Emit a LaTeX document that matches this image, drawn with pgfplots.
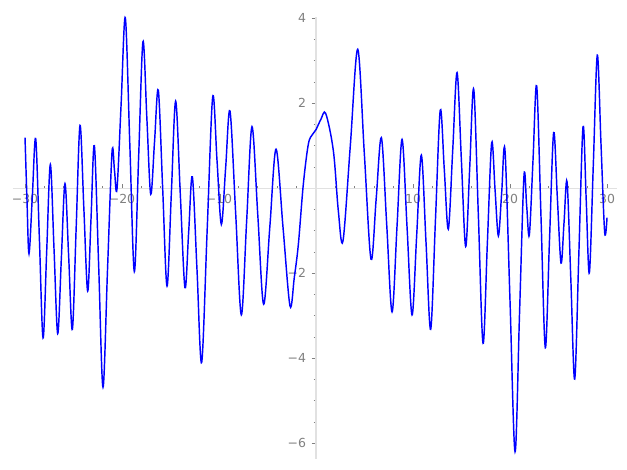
\documentclass[border=0pt]{standalone}
\usepackage{fontspec}
\setmainfont{DejaVu Sans}
\usepackage{pgfplots}
\pgfplotsset{compat=1.18}
\definecolor{axgray}{RGB}{225,225,225}
\definecolor{lblgray}{RGB}{128,128,128}
\begin{document}
\begin{tikzpicture}
\useasboundingbox (-12.7bp,-11bp) rectangle (614.3bp,459bp);
\begin{axis}[
 at={(0,0)}, anchor=south west,
 scale only axis, width=604.3bp, height=442bp,
 xmin=-31.27, xmax=31.03, ymin=-6.37, ymax=4.03,
 axis lines=middle,
 axis line style={axgray, line width=1.5bp, -},
 xtick={-30,-20,-10,10,20,30},
 xticklabels={−30,−20,−10,10,20,30},
 ytick={-6,-4,-2,2,4},
 yticklabels={−6,−4,−2,2,4},
 minor xtick={-30,-28,...,30},
 minor ytick={-6,-5.5,...,4},
 xtick align=inside, ytick align=outside,
 major tick length=4.5bp, minor tick length=2.5bp,
 tick style={lblgray, line width=0.7bp},
 tick label style={font=\fontsize{12.5}{15}\selectfont, text=lblgray},
 xticklabel style={anchor=north, yshift=-2bp},
 yticklabel style={anchor=east, xshift=-2bp},
 clip=false,
]
\addplot[blue, line width=1.45bp, smooth, tension=0.55] coordinates {
(-30.00,1.19) (-29.80,-0.25) (-29.59,-1.54) (-29.245,-0.185) (-28.90,1.17)
(-28.52,-1.175) (-28.14,-3.52) (-27.765,-1.48) (-27.39,0.56) (-27.01,-1.43)
(-26.63,-3.42) (-26.255,-1.655) (-25.88,0.11) (-25.50,-1.605) (-25.12,-3.32)
(-24.725,-0.92) (-24.33,1.48) (-23.935,-0.47) (-23.54,-2.42) (-23.195,-0.71)
(-22.85,1.00) (-22.405,-1.84) (-21.96,-4.68) (-21.495,-1.915) (-21.03,0.85)
(-20.775,0.415) (-20.52,-0.02) (-20.09,1.995) (-19.66,4.01) (-19.195,1.025)
(-18.73,-1.96) (-18.285,0.745) (-17.84,3.45) (-17.44,1.655) (-17.04,-0.14)
(-16.65,1.085) (-16.26,2.31) (-15.81,0.005) (-15.36,-2.30) (-14.915,-0.125)
(-14.47,2.05) (-13.99,-0.145) (-13.51,-2.34) (-13.13,-1.035) (-12.75,0.27)
(-12.27,-1.915) (-11.79,-4.10) (-11.22,-0.975) (-10.65,2.15) (-10.205,0.65)
(-9.76,-0.85) (-9.315,0.485) (-8.87,1.82) (-8.285,-0.58) (-7.70,-2.98)
(-7.15,-0.765) (-6.60,1.45) (-6.00,-0.64) (-5.40,-2.73) (-4.76,-0.905)
(-4.12,0.92) (-3.40,-0.925) (-2.68,-2.77) (-2.24,-2.10) (-1.82,-1.32)
(-1.31,0.09) (-0.79,1.04) (-0.35,1.27) (0.00,1.38) (0.50,1.62)
(1.00,1.76) (1.79,0.88) (2.30,-0.53) (2.78,-1.24) (3.54,1.015)
(4.30,3.27) (4.985,0.80) (5.67,-1.67) (6.205,-0.24) (6.74,1.19)
(7.29,-0.86) (7.84,-2.91) (8.355,-0.88) (8.87,1.15) (9.385,-0.915)
(9.90,-2.98) (10.38,-1.10) (10.86,0.78) (11.34,-1.27) (11.82,-3.32)
(12.315,-0.74) (12.81,1.84) (13.225,0.44) (13.64,-0.96) (14.09,0.88)
(14.54,2.72) (14.985,0.675) (15.43,-1.37) (15.845,0.48) (16.26,2.33)
(16.74,-0.66) (17.22,-3.65) (17.665,-1.29) (18.11,1.07) (18.455,-0.025)
(18.80,-1.12) (19.14,-0.11) (19.48,0.90) (20.00,-2.65) (20.52,-6.20)
(20.98,-2.955) (21.44,0.29) (21.715,-0.405) (21.99,-1.10) (22.37,0.655)
(22.75,2.41) (23.195,-0.67) (23.64,-3.75) (24.07,-1.22) (24.50,1.31)
(24.88,-0.225) (25.26,-1.76) (25.57,-0.805) (25.88,0.15) (26.275,-2.17)
(26.67,-4.49) (27.10,-1.52) (27.53,1.45) (27.855,-0.27) (28.18,-1.99)
(28.59,0.57) (29.00,3.13) (29.38,1.045) (29.76,-1.04) (30.00,-0.69)
};
\end{axis}
\end{tikzpicture}
\end{document}
